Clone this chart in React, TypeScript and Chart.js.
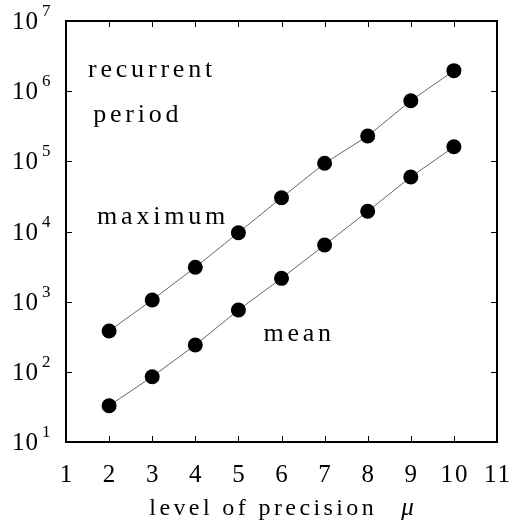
import React, { useEffect, useRef } from "react";
import { Chart, registerables } from "chart.js";

Chart.register(...registerables);

const precisionLevels = [2, 3, 4, 5, 6, 7, 8, 9, 10];
const maximumPeriod = [382, 1057, 3090, 9620, 30300, 93800, 229600, 731000, 1960000];
const meanPeriod = [32.9, 85.3, 241, 760, 2150, 6410, 19400, 59800, 161000];
const xTickValues = [1, 2, 3, 4, 5, 6, 7, 8, 9, 10, 11];
const yTickExponents = [1, 2, 3, 4, 5, 6, 7];
const xTitle = "level of precision";
const xTitleSymbol = "μ";

// annotation texts with their anchor in data coordinates (x, log-value)
const annotationTexts = ["recurrent", "period", "maximum", "mean"];
const annotationX = [1.51, 1.63, 1.72, 5.58];
const annotationY = [2.0e6, 4.6e5, 1.6e4, 3.4e2];

const SERIF = '"Liberation Serif", "Times New Roman", serif';

const overlayPlugin = {
  id: "overlay",
  afterDraw(chart: any) {
    const { ctx, chartArea } = chart;
    const { left, right, top, bottom } = chartArea;
    const xs = chart.scales.x;
    const ys = chart.scales.y;
    ctx.save();
    // frame
    ctx.strokeStyle = "#000";
    ctx.lineWidth = 2;
    ctx.strokeRect(left, top, right - left, bottom - top);
    // inward ticks
    ctx.lineWidth = 1;
    ctx.beginPath();
    xTickValues.forEach((v) => {
      const px = Math.round(xs.getPixelForValue(v)) + 0.5;
      ctx.moveTo(px, bottom);
      ctx.lineTo(px, bottom - 6);
      ctx.moveTo(px, top);
      ctx.lineTo(px, top + 6);
    });
    yTickExponents.forEach((e) => {
      const py = Math.round(ys.getPixelForValue(Math.pow(10, e))) + 0.5;
      ctx.moveTo(left, py);
      ctx.lineTo(left + 6, py);
      ctx.moveTo(right, py);
      ctx.lineTo(right - 6, py);
    });
    ctx.stroke();

    ctx.fillStyle = "#000";
    // y tick labels 10^n
    yTickExponents.forEach((e) => {
      const py = ys.getPixelForValue(Math.pow(10, e));
      ctx.font = `25px ${SERIF}`;
      ctx.textAlign = "right";
      ctx.textBaseline = "alphabetic";
      (ctx as any).letterSpacing = "1px";
      ctx.fillText("10", left - 27, py + 8);
      ctx.font = `17px ${SERIF}`;
      ctx.textAlign = "left";
      (ctx as any).letterSpacing = "0px";
      ctx.fillText(String(e), left - 24, py - 5);
    });
    // x tick labels
    ctx.font = `25px ${SERIF}`;
    ctx.textAlign = "center";
    ctx.textBaseline = "alphabetic";
    (ctx as any).letterSpacing = "2px";
    xTickValues.forEach((v) => {
      const px = xs.getPixelForValue(v);
      ctx.fillText(String(v), px + 1, bottom + 40);
    });
    // x title
    (ctx as any).letterSpacing = "3.4px";
    ctx.font = `24px ${SERIF}`;
    const w1 = ctx.measureText(xTitle).width;
    ctx.font = `italic 25px ${SERIF}`;
    (ctx as any).letterSpacing = "0px";
    const w2 = ctx.measureText(xTitleSymbol).width;
    const gap = 24;
    const total = w1 + gap + w2;
    const cx = (left + right) / 2;
    const startX = cx - total / 2;
    ctx.textAlign = "left";
    ctx.font = `24px ${SERIF}`;
    (ctx as any).letterSpacing = "3.4px";
    ctx.fillText(xTitle, startX, bottom + 73);
    ctx.font = `italic 25px ${SERIF}`;
    (ctx as any).letterSpacing = "0px";
    ctx.fillText(xTitleSymbol, startX + w1 + gap, bottom + 73);

    // annotations
    ctx.font = `26px ${SERIF}`;
    (ctx as any).letterSpacing = "3.8px";
    ctx.textAlign = "left";
    ctx.textBaseline = "middle";
    annotationTexts.forEach((t, i) => {
      const px = xs.getPixelForValue(annotationX[i]);
      const py = ys.getPixelForValue(annotationY[i]);
      ctx.fillText(t, px, py);
    });
    ctx.restore();
  },
};

export default function App() {
  const canvasRef = useRef<HTMLCanvasElement | null>(null);
  useEffect(() => {
    if (!canvasRef.current) return;
    const mkData = (vals: number[]) => precisionLevels.map((x, i) => ({ x, y: vals[i] }));
    const common = {
      borderColor: "#666",
      borderWidth: 1,
      pointRadius: 7.5,
      pointHoverRadius: 7.5,
      pointBackgroundColor: "#000",
      pointBorderWidth: 0,
      showLine: true,
      fill: false,
      tension: 0,
    };
    const chart = new Chart(canvasRef.current, {
      type: "scatter",
      data: {
        datasets: [
          { label: "maximum", data: mkData(maximumPeriod), ...common },
          { label: "mean", data: mkData(meanPeriod), ...common },
        ],
      },
      options: {
        responsive: false,
        maintainAspectRatio: false,
        animation: false,
        layout: { padding: { left: 0, right: 12, top: 21, bottom: 0 } },
        plugins: { legend: { display: false }, tooltip: { enabled: false } },
        scales: {
          x: {
            type: "linear",
            min: 1,
            max: 11,
            ticks: { display: false },
            grid: { display: false },
            border: { display: false },
            afterFit: (s: any) => {
              s.height = 83;
            },
          },
          y: {
            type: "logarithmic",
            min: 10,
            max: 1e7,
            ticks: { display: false },
            grid: { display: false },
            border: { display: false },
            afterFit: (s: any) => {
              s.width = 66;
            },
          },
        },
      } as any,
      plugins: [overlayPlugin],
    });
    return () => chart.destroy();
  }, []);
  return (
    <div style={{ position: "absolute", left: 0, top: 0, width: 509, height: 525, background: "#fff" }}>
      <canvas ref={canvasRef} width={509} height={525} style={{ width: 509, height: 525 }} />
    </div>
  );
}
